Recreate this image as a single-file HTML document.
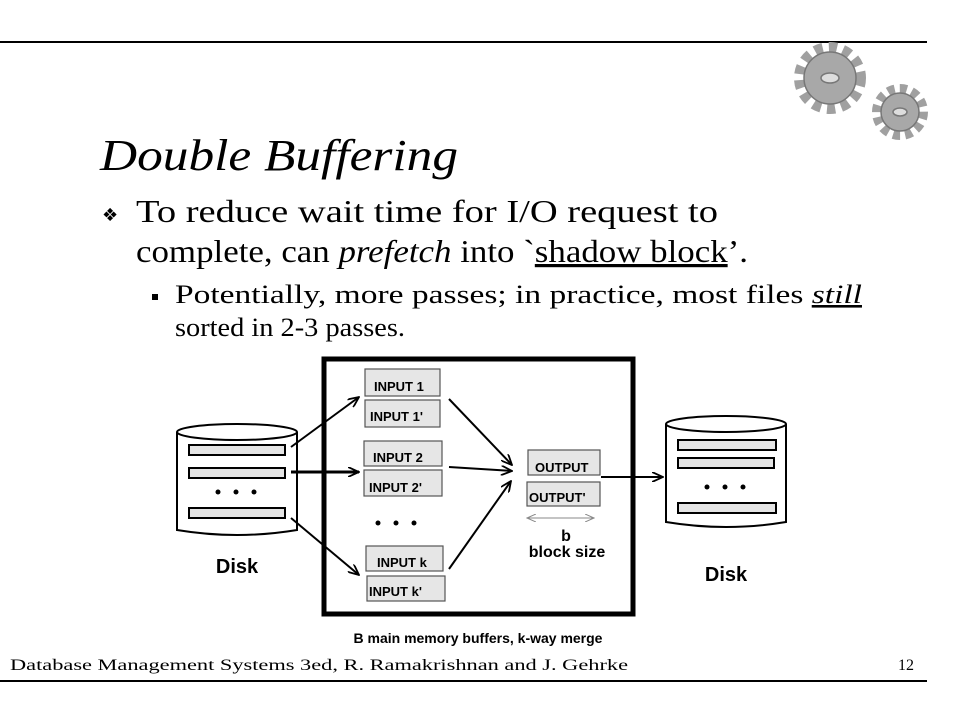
<!DOCTYPE html>
<html><head><meta charset="utf-8"><style>
body{margin:0;width:960px;height:720px;background:#fff;overflow:hidden}
</style></head><body>
<svg width="960" height="720" viewBox="0 0 960 720" xmlns="http://www.w3.org/2000/svg">
<defs>
<marker id="ah" markerWidth="12" markerHeight="10" refX="11" refY="5" orient="auto" markerUnits="userSpaceOnUse">
<path d="M0,0 L11,5 L0,10" fill="none" stroke="#000" stroke-width="1.8"/></marker>
<marker id="sa" markerWidth="10" markerHeight="8" refX="9" refY="4" orient="auto" markerUnits="userSpaceOnUse">
<path d="M0,0 L9,4 L0,8" fill="none" stroke="#888" stroke-width="1"/></marker>
</defs>
<line x1="0" y1="42" x2="927" y2="42" stroke="#000" stroke-width="2"/>
<line x1="0" y1="681" x2="927" y2="681" stroke="#000" stroke-width="2"/>
<g fill="#a8a8a8" stroke="#777" stroke-width="1.5">
<circle cx="830" cy="78" r="30" stroke-dasharray="8 6" stroke-width="12" fill="none" stroke="#a0a0a0"/>
<circle cx="830" cy="78" r="26"/>
<ellipse cx="830" cy="78" rx="9" ry="5" fill="#ddd"/>
<circle cx="900" cy="112" r="23" stroke-dasharray="7 5" stroke-width="10" fill="none" stroke="#a0a0a0"/>
<circle cx="900" cy="112" r="19"/>
<ellipse cx="900" cy="112" rx="7" ry="4" fill="#ddd"/>
</g>
<text x="100" y="170" font-family="Liberation Serif,serif" font-style="italic" font-size="44" textLength="358" lengthAdjust="spacingAndGlyphs">Double Buffering</text>
<text x="102" y="221" font-family="DejaVu Sans,sans-serif" font-size="18">❖</text>
<text x="136" y="222" font-family="Liberation Serif,serif" font-size="32" textLength="582" lengthAdjust="spacingAndGlyphs">To reduce wait time for I/O request to</text>
<text x="136" y="262" font-family="Liberation Serif,serif" font-size="32" textLength="612" lengthAdjust="spacingAndGlyphs">complete, can <tspan font-style="italic">prefetch</tspan> into `<tspan text-decoration="underline">shadow block</tspan>’.</text>
<rect x="152" y="294" width="6" height="6"/>
<text x="175" y="303" font-family="Liberation Serif,serif" font-size="26" textLength="687" lengthAdjust="spacingAndGlyphs">Potentially, more passes; in practice, most files <tspan font-style="italic" text-decoration="underline">still</tspan></text>
<text x="175" y="336" font-family="Liberation Serif,serif" font-size="26" textLength="230" lengthAdjust="spacingAndGlyphs">sorted in 2-3 passes.</text>
<rect x="324" y="359" width="309" height="255" fill="none" stroke="#000" stroke-width="5"/>
<g font-family="Liberation Sans,sans-serif" font-weight="bold" font-size="13">
<path d="M177,432 L177,530 Q237,540 297,530 L297,432" fill="#fff" stroke="#000" stroke-width="2"/>
<ellipse cx="237" cy="432" rx="60" ry="8" fill="#fff" stroke="#000" stroke-width="2"/>
<rect x="189" y="445" width="96" height="10" fill="#e4e4e4" stroke="#000" stroke-width="2"/>
<rect x="189" y="468" width="96" height="10" fill="#e4e4e4" stroke="#000" stroke-width="2"/>
<rect x="189" y="508" width="96" height="10" fill="#e4e4e4" stroke="#000" stroke-width="2"/>
<circle cx="218" cy="492" r="2.5"/><circle cx="236" cy="492" r="2.5"/><circle cx="254" cy="492" r="2.5"/>
<text x="237" y="573" text-anchor="middle" font-size="20">Disk</text>
<path d="M666,424 L666,522 Q726,532 786,522 L786,424" fill="#fff" stroke="#000" stroke-width="2"/>
<ellipse cx="726" cy="424" rx="60" ry="8" fill="#fff" stroke="#000" stroke-width="2"/>
<rect x="678" y="440" width="98" height="10" fill="#e4e4e4" stroke="#000" stroke-width="2"/>
<rect x="678" y="458" width="96" height="10" fill="#e4e4e4" stroke="#000" stroke-width="2"/>
<rect x="678" y="503" width="98" height="10" fill="#e4e4e4" stroke="#000" stroke-width="2"/>
<circle cx="707" cy="487" r="2.5"/><circle cx="725" cy="487" r="2.5"/><circle cx="743" cy="487" r="2.5"/>
<text x="726" y="581" text-anchor="middle" font-size="20">Disk</text>
<g fill="#e6e6e6" stroke="#555" stroke-width="1.2">
<rect x="365" y="369" width="75" height="27"/><rect x="365" y="400" width="75" height="27"/>
<rect x="364" y="441" width="78" height="25"/><rect x="364" y="470" width="78" height="26"/>
<rect x="366" y="546" width="77" height="25"/><rect x="367" y="576" width="78" height="25"/>
<rect x="528" y="450" width="72" height="25"/><rect x="527" y="482" width="73" height="24"/>
</g>
<text x="374" y="391">INPUT 1</text>
<text x="370" y="421">INPUT 1'</text>
<text x="373" y="462">INPUT 2</text>
<text x="369" y="492">INPUT 2'</text>
<text x="377" y="567">INPUT k</text>
<text x="369" y="596">INPUT k'</text>
<text x="535" y="472">OUTPUT</text>
<text x="529" y="502">OUTPUT'</text>
<circle cx="378" cy="523" r="2.5"/><circle cx="396" cy="523" r="2.5"/><circle cx="414" cy="523" r="2.5"/>
<line x1="560" y1="518" x2="527" y2="518" stroke="#888" marker-end="url(#sa)"/>
<line x1="560" y1="518" x2="594" y2="518" stroke="#888" marker-end="url(#sa)"/>
<text x="566" y="541" text-anchor="middle" font-size="16">b</text>
<text x="567" y="557" text-anchor="middle" font-size="16">block size</text>
<text x="478" y="643" text-anchor="middle" font-size="14">B main memory buffers, k-way merge</text>
</g>
<g stroke="#000" stroke-width="2" fill="none" marker-end="url(#ah)">
<line x1="291" y1="447" x2="359" y2="397"/>
<line x1="291" y1="472" x2="359" y2="472" stroke-width="3"/>
<line x1="291" y1="518" x2="359" y2="575"/>
<line x1="449" y1="399" x2="512" y2="465"/>
<line x1="449" y1="467" x2="512" y2="471"/>
<line x1="449" y1="569" x2="511" y2="481"/>
<line x1="601" y1="477" x2="663" y2="477"/>
</g>
<text x="10" y="670" font-family="Liberation Serif,serif" font-size="16" textLength="618" lengthAdjust="spacingAndGlyphs">Database Management Systems 3ed,  R. Ramakrishnan and J. Gehrke</text>
<text x="898" y="670" font-family="Liberation Serif,serif" font-size="16">12</text>
</svg>
</body></html>
